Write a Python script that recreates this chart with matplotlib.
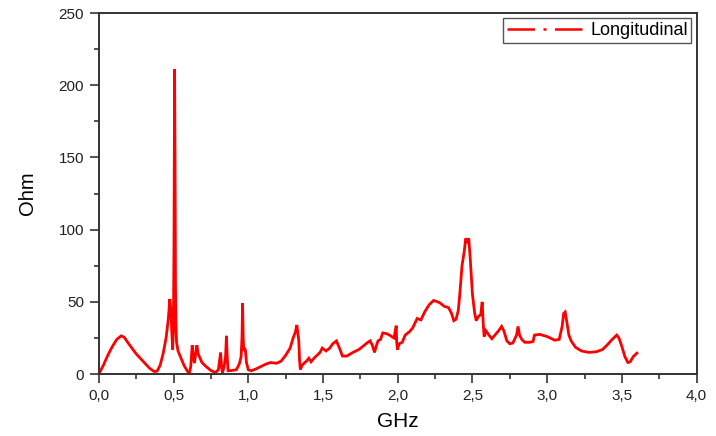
import matplotlib
matplotlib.use("Agg")
import matplotlib.pyplot as plt
from matplotlib.ticker import MultipleLocator, FuncFormatter
from matplotlib.lines import Line2D

# ----------------- data -----------------
freq_ghz = [
    0.0, 0.03, 0.06, 0.09, 0.12, 0.15, 0.17, 0.2, 0.25, 0.3, 0.34, 0.37, 0.39,
    0.41, 0.43, 0.45, 0.465, 0.475, 0.482, 0.488, 0.494, 0.499, 0.503, 0.507,
    0.510, 0.513, 0.516, 0.52, 0.53, 0.55, 0.57, 0.59, 0.605, 0.615, 0.625,
    0.633, 0.64, 0.648, 0.656, 0.665, 0.69, 0.72, 0.75, 0.78, 0.80, 0.815,
    0.822, 0.828, 0.838, 0.848, 0.854, 0.859, 0.865, 0.89, 0.92, 0.94, 0.952,
    0.958, 0.962, 0.966, 0.970, 0.975, 0.98, 0.988, 1.0, 1.02, 1.05, 1.08,
    1.12, 1.15, 1.19, 1.22, 1.25, 1.28, 1.30, 1.315, 1.325, 1.33, 1.338,
    1.343, 1.348, 1.36, 1.378, 1.39, 1.405, 1.42, 1.44, 1.46, 1.48, 1.495,
    1.52, 1.545, 1.565, 1.59, 1.61, 1.63, 1.66, 1.70, 1.74, 1.77, 1.80,
    1.815, 1.83, 1.845, 1.855, 1.868, 1.885, 1.90, 1.925, 1.945, 1.975,
    1.990, 1.993, 1.998, 2.01, 2.03, 2.05, 2.08, 2.10, 2.13, 2.155, 2.18,
    2.21, 2.24, 2.28, 2.31, 2.34, 2.36, 2.375, 2.39, 2.405, 2.415, 2.43,
    2.445, 2.455, 2.465, 2.475, 2.485, 2.495, 2.50, 2.515, 2.525, 2.54,
    2.555, 2.565, 2.572, 2.578, 2.59, 2.61, 2.63, 2.65, 2.675, 2.695, 2.71,
    2.73, 2.75, 2.77, 2.795, 2.805, 2.815, 2.83, 2.85, 2.88, 2.905, 2.915,
    2.95, 3.0, 3.05, 3.08, 3.10, 3.11, 3.12, 3.13, 3.145, 3.16, 3.19, 3.23,
    3.28, 3.33, 3.37, 3.40, 3.43, 3.465, 3.48, 3.50, 3.52, 3.54, 3.555,
    3.575, 3.60,
]
impedance_ohm = [
    0, 6, 13, 19, 24, 26.5, 25.5, 21, 14, 8.5, 4, 1.8, 2,
    6, 14, 25, 38, 52, 45, 30, 17, 30, 90, 211,
    150, 62, 35, 22, 16, 11, 6, 2.5, 0.3, 5, 20,
    12, 7.6, 14, 20, 14, 8, 5, 2.5, 1, 3, 15,
    4, 1, 5, 12, 26.5, 12, 2.3, 2.5, 3, 7, 12,
    25, 49, 25, 16, 18, 17, 8, 3, 2.3, 3.5, 5,
    7, 8, 7.5, 9, 13, 18, 25, 29, 34, 30, 23,
    10, 3.2, 6, 8, 9, 11, 8.5, 11, 13, 15, 18,
    16, 18, 21, 23, 18, 12.5, 12.5, 15, 17, 19.5, 22,
    23, 20, 15, 19, 23, 24, 28.5, 28, 27, 25,
    33.5, 22, 17, 21, 22, 27, 29.5, 32, 38.5, 37.5, 43,
    48, 51, 49.5, 47, 46, 42, 37, 38, 44, 55, 75,
    85, 94, 92, 94, 80, 63, 55, 42, 37, 40,
    41, 50, 35, 26, 30, 27, 24.5, 27, 30, 33, 30,
    23, 21, 21.5, 27, 33, 27, 24, 22, 22, 22.5, 27,
    27.5, 26, 23.5, 24, 33, 42, 43, 37, 27, 23, 18.5, 16,
    15, 15.5, 17, 20, 23.5, 27, 25, 19, 12, 8, 8.5,
    12, 14.5,
]
series_name = "Longitudinal"
x_label = "GHz"
y_label = "Ohm"

# ----------------- style -----------------
plt.rcParams["font.family"] = ["Liberation Sans", "DejaVu Sans"]
axis_col = "#333333"

fig = plt.figure(figsize=(7.16, 4.36), dpi=100)
ax = fig.add_axes([0.138, 0.142, 0.835, 0.828])

ax.plot(freq_ghz, impedance_ohm, color="red", lw=2.0, solid_joinstyle="miter")

ax.set_xlim(0, 4.0)
ax.set_ylim(0, 250)
ax.xaxis.set_major_locator(MultipleLocator(0.5))
ax.xaxis.set_minor_locator(MultipleLocator(0.25))
ax.yaxis.set_major_locator(MultipleLocator(50))
ax.yaxis.set_minor_locator(MultipleLocator(25))
ax.xaxis.set_major_formatter(FuncFormatter(lambda v, p: f"{v:.1f}".replace(".", ",")))
ax.yaxis.set_major_formatter(FuncFormatter(lambda v, p: f"{v:.0f}"))

for s in ax.spines.values():
    s.set_linewidth(1.4)
    s.set_color(axis_col)

ax.tick_params(which="major", direction="out", length=6.5, width=1.2,
               color=axis_col, labelsize=11, labelcolor="#222222", pad=4)
ax.tick_params(which="minor", direction="out", length=3.5, width=1.2, color=axis_col)
ax.tick_params(top=False, right=False, which="both")

ax.set_xlabel(x_label, fontsize=15, labelpad=7)
ax.set_ylabel(y_label, fontsize=14.5, labelpad=16)

# legend handle drawn as dash-dot-dash like the original
handle = Line2D([], [], color="red", lw=1.8, linestyle=(0, (11, 3.4, 1.2, 3.4)))
leg = ax.legend([handle], [series_name], loc="upper right", fontsize=13,
                fancybox=False, framealpha=1, edgecolor="#555555",
                borderpad=0.2, handlelength=4.2, handletextpad=0.4,
                borderaxespad=0.3)
leg.get_frame().set_linewidth(1.0)

fig.savefig("out.png", dpi=100)
